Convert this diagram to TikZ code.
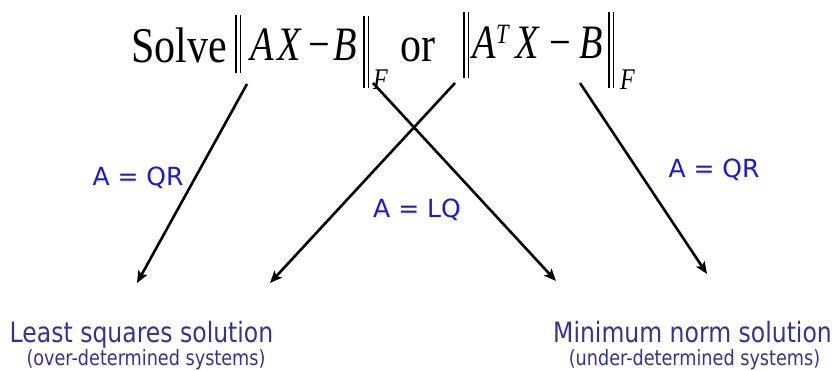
\documentclass[tikz,border=0pt]{standalone}
\usepackage{fontspec}
\usetikzlibrary{arrows.meta}

\newfontfamily\eqfont[FakeStretch=0.8]{Liberation Serif}
\newfontfamily\wordfont[FakeStretch=0.84]{Liberation Serif}
\newfontfamily\labfont{DejaVu Sans}
\newfontfamily\solfont[FakeStretch=0.84]{DejaVu Sans}

\definecolor{eqblue}{RGB}{25,25,215}
\definecolor{solblue}{RGB}{51,51,153}

% double bar of a norm: depth, total height
\newcommand{\normbars}[2]{\rule[-#1pt]{1.8pt}{#2pt}\hspace{2.6pt}\rule[-#1pt]{1.8pt}{#2pt}}
% glyph in a box of fixed advance
\newcommand{\gl}[2]{\makebox[#1pt][l]{#2}}

\tikzset{
    word/.style={anchor=base west, inner sep=0pt, font=\wordfont\fontsize{50}{56}\selectfont},
    eq/.style={anchor=base west, inner sep=0pt, font=\eqfont\fontsize{48}{54}\selectfont},
    lab/.style={anchor=base, inner sep=0pt, text=eqblue, font=\labfont\fontsize{25}{30}\selectfont},
    sol/.style={anchor=base, inner sep=0pt, text=solblue, font=\solfont\fontsize{28}{32}\selectfont},
    note/.style={anchor=base, inner sep=0pt, text=solblue, font=\solfont\fontsize{21}{24}\selectfont},
    arr/.style={line width=2.6pt, -{Stealth[length=12pt,width=10pt,inset=2.5pt]}}
}

\begin{document}
\begin{tikzpicture}[x=1pt, y=-1pt]
    \fill[white] (0,0) rectangle (837,370);

    % Problem statement
    \node[word] (solve) at (131,62) {Solve};
    \node[eq] (lnorm) at (235,60) {\gl{15}{\normbars{13}{58}}\gl{27}{\textit{A}}\gl{31}{\textit{X}}\gl{25}{−}\gl{30}{\textit{B}}\gl{10}{\normbars{28}{72}}\raisebox{-29pt}{\fontsize{30}{30}\selectfont\textit{F}}};
    \node[word] (or) at (400,61) {or};
    \node[eq] (rnorm) at (463,58) {\gl{9}{\normbars{20}{66}}\gl{24}{\textit{A}}\gl{19}{\raisebox{15pt}{\fontsize{28}{28}\selectfont\textit{T}}}\gl{34}{\textit{X}}\gl{30}{−}\gl{29}{\textit{B}}\gl{12}{\normbars{30}{76}}\raisebox{-31pt}{\fontsize{30}{30}\selectfont\textit{F}}};

    % Arrow ends
    \coordinate (top1) at (247,84);
    \coordinate (tip1) at (137,283);
    \coordinate (top2) at (455,83);
    \coordinate (tip2) at (270,283);
    \coordinate (top3) at (373,83);
    \coordinate (tip3) at (556,281);
    \coordinate (top4) at (580,83);
    \coordinate (tip4) at (707,274);

    \draw[arr] (top1) -- (tip1);
    \draw[arr] (top2) -- (tip2);
    \draw[arr] (top3) -- (tip3);
    \draw[arr] (top4) -- (tip4);

    % Factorizations
    \node[lab] (qrleft) at (138,185) {A = QR};
    \node[lab] (lq) at (417,217) {A = LQ};
    \node[lab] (qrright) at (714,177) {A = QR};

    % Solutions
    \node[sol] (lsq) at (141.5,342) {Least squares solution};
    \node[note] (lsqnote) at (146,365) {(over-determined systems)};
    \node[sol] (mns) at (692.5,342) {Minimum norm solution};
    \node[note] (mnsnote) at (694.5,365) {(under-determined systems)};
\end{tikzpicture}
\end{document}
